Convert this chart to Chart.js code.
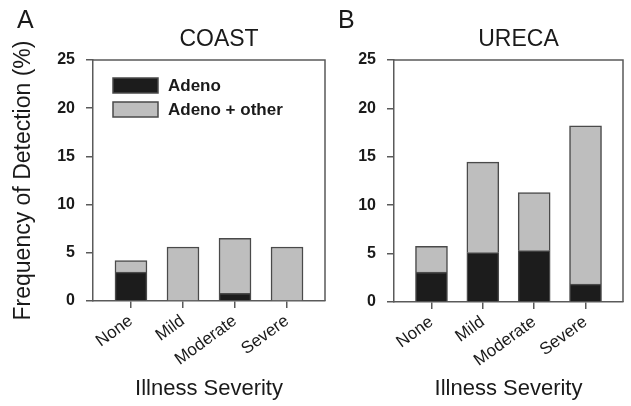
<!DOCTYPE html>
<html>
<head>
<meta charset="utf-8">
<script src="https://cdn.jsdelivr.net/npm/chart.js@4"></script>
<style>
  body { margin: 0; background: #fff; }
  #wrap { position: relative; width: 631px; height: 406px; }
  canvas { position: absolute; top: 0; }
</style>
</head>
<body>
<div id="wrap">
  <canvas id="coastChart" width="330" height="406" style="left:0"></canvas>
  <canvas id="urecaChart" width="301" height="406" style="left:330px"></canvas>
</div>
<script>
// Values (percent)
var categories = ['None', 'Mild', 'Moderate', 'Severe'];
var coastAdeno = [3.0, 0, 0.8, 0];
var coastAdenoOther = [1.2, 5.6, 5.7, 5.6];
var urecaAdeno = [3.1, 5.1, 5.3, 1.85];
var urecaAdenoOther = [2.65, 9.35, 6.0, 16.35];
var yTicks = [0, 5, 10, 15, 20, 25];

var darkFill = '#1c1c1c';
var greyFill = '#bebebe';
var edge = '#4a4a4a';
var axisColor = '#5a5a5a';
var textColor = '#1a1a1a';
var family = '"Liberation Sans", Arial, sans-serif';

Chart.defaults.font.family = family;
Chart.defaults.color = textColor;

function points(values) {
    return values.map(function(v, i) {
        return { x: i, y: v };
    });
}

// Draws the box top/right edges, panel letter, panel title and the inset legend
var panelDecor = {
    id: 'panelDecor',
    afterDraw: function(chart, args, opts) {
        var ctx = chart.ctx;
        var a = chart.chartArea;
        ctx.save();
        ctx.strokeStyle = axisColor;
        ctx.lineWidth = 1.5;
        ctx.beginPath();
        ctx.moveTo(a.left, a.top);
        ctx.lineTo(a.right, a.top);
        ctx.lineTo(a.right, a.bottom);
        ctx.stroke();

        ctx.fillStyle = textColor;
        ctx.textBaseline = 'middle';
        ctx.textAlign = 'left';
        ctx.font = '25px ' + family;
        ctx.fillText(opts.letter, opts.letterX, 21);

        ctx.textAlign = 'center';
        ctx.font = '23px ' + family;
        ctx.fillText(opts.title, (a.left + a.right) / 2 + 10, 40);

        if (opts.legend) {
            ctx.textAlign = 'left';
            ctx.font = 'bold 17px ' + family;
            chart.data.datasets.forEach(function(ds, i) {
                var bx = a.left + 20;
                var by = a.top + 18 + i * 24;
                ctx.fillStyle = ds.backgroundColor;
                ctx.fillRect(bx, by, 45, 15);
                ctx.strokeStyle = edge;
                ctx.lineWidth = 1.5;
                ctx.strokeRect(bx, by, 45, 15);
                ctx.fillStyle = textColor;
                ctx.fillText(ds.label, bx + 55, by + 8);
            });
        }
        ctx.restore();
    }
};

function makePanel(id, adeno, other, decor, showYTitle, leftWidth, rightPad, xHeight) {
    return new Chart(document.getElementById(id), {
        type: 'bar',
        data: {
            datasets: [{
                label: 'Adeno',
                data: points(adeno),
                backgroundColor: darkFill,
                borderColor: edge,
                borderWidth: 1.5,
                barThickness: 32
            }, {
                label: 'Adeno + other',
                data: points(other),
                backgroundColor: greyFill,
                borderColor: edge,
                borderWidth: 1.5,
                barThickness: 32
            }]
        },
        options: {
            responsive: false,
            animation: false,
            devicePixelRatio: 1,
            layout: { padding: { top: 60, right: rightPad, left: 0, bottom: 0 } },
            plugins: {
                legend: { display: false },
                tooltip: { enabled: false },
                panelDecor: decor
            },
            scales: {
                x: {
                    type: 'linear',
                    stacked: true,
                    offset: false,
                    min: -0.73,
                    max: 3.73,
                    afterBuildTicks: function(scale) {
                        scale.ticks = categories.map(function(c, i) { return { value: i }; });
                    },
                    afterFit: function(scale) { scale.height = xHeight; },
                    grid: { offset: false, drawOnChartArea: false, tickLength: 7, color: axisColor, lineWidth: 1.5 },
                    border: { color: axisColor, width: 1.5 },
                    ticks: {
                        autoSkip: false,
                        minRotation: 36,
                        maxRotation: 36,
                        padding: 3,
                        font: { size: 17 },
                        callback: function(value) { return categories[value]; }
                    },
                    title: {
                        display: true,
                        text: 'Illness Severity',
                        font: { size: 22 },
                        padding: { top: 0, bottom: 4 }
                    }
                },
                y: {
                    stacked: true,
                    min: 0,
                    max: 25,
                    afterBuildTicks: function(scale) {
                        scale.ticks = yTicks.map(function(v) { return { value: v }; });
                    },
                    afterFit: function(scale) { scale.width = leftWidth; },
                    grid: { drawOnChartArea: false, tickLength: 7, color: axisColor, lineWidth: 1.5 },
                    border: { color: axisColor, width: 1.5 },
                    ticks: { padding: 11, font: { size: 16, weight: 'bold' } },
                    title: {
                        display: showYTitle,
                        text: 'Frequency of Detection (%)',
                        font: { size: 23 },
                        padding: { top: 10, bottom: 0 }
                    }
                }
            }
        },
        plugins: [panelDecor]
    });
}

makePanel('coastChart', coastAdeno, coastAdenoOther,
    { letter: 'A', letterX: 17, title: 'COAST', legend: true }, true, 93, 5, 105);
makePanel('urecaChart', urecaAdeno, urecaAdenoOther,
    { letter: 'B', letterX: 8, title: 'URECA', legend: false }, false, 64, 8, 104);
</script>
</body>
</html>
